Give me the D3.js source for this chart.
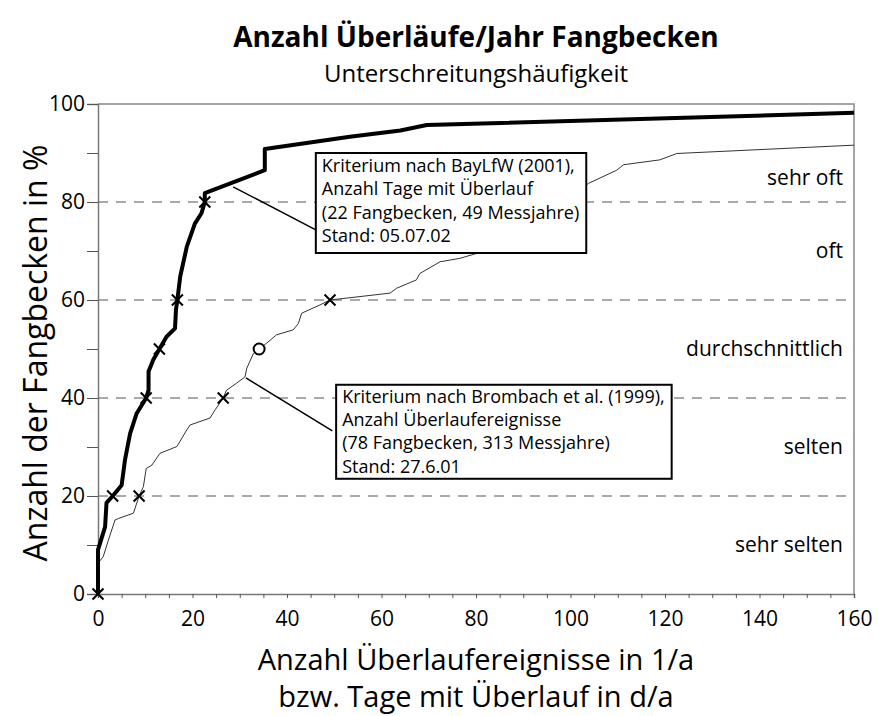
<!DOCTYPE html>
<html lang="de">

<head>
    <meta charset="UTF-8">
    <title>Anzahl Überläufe/Jahr Fangbecken</title>
    <style>
        body {
            margin: 0;
            background: #fff;
        }

        svg text {
            font-family: "Open Sans", sans-serif;
            fill: #000;
        }
    </style>
</head>

<body>
    <div id="wrapper"></div>

    <script src="https://d3js.org/d3.v7.min.js"></script>
    <script>
        // Kriterium BayLfW: Tage mit Überlauf (x) / Anteil Fangbecken in % (y)
        const tageX = [0, 0, 1.5, 1.8, 3.1, 5, 5.7, 6.8, 8.2, 10.2, 10.7, 10.7, 11.7, 13, 14.5, 16.3, 16.5, 16.8,
            17.4, 18.8, 20.5, 21.9, 22.6, 22.6, 35.3, 35.3, 53.3, 64, 69.6, 160];
        const tageY = [0, 9, 13.7, 18.6, 20, 22.2, 27.3, 32.8, 36.9, 40, 41.6, 45.4, 47.8, 50, 52.5, 54.2, 58, 60,
            64.8, 70.9, 75.6, 77.7, 80, 81.8, 86.5, 90.8, 93.3, 94.6, 95.7, 98.2];

        // Kriterium Brombach: Überlaufereignisse (x) / Anteil Fangbecken in % (y)
        const ereignisX = [0, 1.1, 2.2, 3.6, 4.3, 7.5, 8.7, 9.6, 10.2, 11.4, 13.1, 16.7, 18.8, 19.5, 23.7, 24.8,
            26.5, 27.2, 29.3, 31.1, 31.5, 32.9, 34.1, 35.7, 37.8, 41.3, 42.4, 43.1, 47, 49.1, 61.8, 63.2, 67.4,
            68.1, 72.4, 76.6, 80.1, 90, 100, 103.8, 109.8, 111.2, 118.9, 122.5, 160];
        const ereignisY = [6.3, 7.6, 11, 15.1, 15.4, 16.5, 20, 21.9, 25.6, 26.3, 28.7, 30.1, 33.5, 34.5, 35.9, 37.6,
            40, 41.6, 43, 44.3, 46.1, 49.1, 50, 51.2, 52.9, 53.9, 55.2, 57.3, 59, 60, 61.4, 62.4, 64.1,
            65.4, 67.8, 68.5, 69.5, 74, 81, 83.8, 86.5, 87.6, 88.6, 89.9, 91.6];

        // Markierungen (Kreuze) auf den Kurven
        const kreuzX = [0, 3.1, 10.2, 13, 16.8, 22.6, 8.7, 26.5, 49.1];
        const kreuzY = [0, 20, 40, 50, 60, 80, 20, 40, 60];
        const kreisX = [34.1];
        const kreisY = [50];

        // Achsen
        const xTicks = [0, 20, 40, 60, 80, 100, 120, 140, 160];
        const yTicks = [0, 20, 40, 60, 80, 100];
        const gridValues = [20, 40, 60, 80];

        // Häufigkeitsklassen rechts
        const klassenText = ["sehr oft", "oft", "durchschnittlich", "selten", "sehr selten"];
        const klassenY = [85, 70, 50, 30, 10];

        // Beschriftungskästen
        const kasten1Text = ["Kriterium nach BayLfW (2001),", "Anzahl Tage mit Überlauf",
            "(22 Fangbecken, 49 Messjahre)", "Stand: 05.07.02"];
        const kasten2Text = ["Kriterium nach Brombach et al. (1999),", "Anzahl Überlaufereignisse",
            "(78 Fangbecken, 313 Messjahre)", "Stand: 27.6.01"];
        const kastenX = [46.1, 50.4];
        const kastenY = [90, 42.7];
        // Hinweislinien: Start auf der Kurve, Ende am Kasten
        const hinweisX1 = [28.6, 31.3];
        const hinweisY1 = [83.1, 44.1];
        const hinweisX2 = [46.1, 49.6];
        const hinweisY2 = [74.3, 33.3];

        function drawChart() {
            const tage = tageX.map((x, i) => ({ x: x, y: tageY[i] }));
            const ereignisse = ereignisX.map((x, i) => ({ x: x, y: ereignisY[i] }));
            const kreuze = kreuzX.map((x, i) => ({ x: x, y: kreuzY[i] }));
            const kreise = kreisX.map((x, i) => ({ x: x, y: kreisY[i] }));

            let dimensions = {
                width: 879,
                height: 716,
                margin: { top: 104, right: 25, bottom: 122, left: 98 },
            };
            dimensions.boundedWidth = dimensions.width - dimensions.margin.left - dimensions.margin.right;
            dimensions.boundedHeight = dimensions.height - dimensions.margin.top - dimensions.margin.bottom;

            const wrapper = d3.select("#wrapper")
                .append("svg")
                .attr("width", dimensions.width)
                .attr("height", dimensions.height);

            const bounds = wrapper.append("g")
                .attr("transform", `translate(${dimensions.margin.left},${dimensions.margin.top})`);

            const xScale = d3.scaleLinear().domain([0, 160]).range([0, dimensions.boundedWidth]);
            const yScale = d3.scaleLinear().domain([0, 100]).range([dimensions.boundedHeight, 0]);

            // gestrichelte Hilfslinien
            bounds.append("g")
                .selectAll("line")
                .data(gridValues)
                .join("line")
                .attr("x1", 0)
                .attr("x2", dimensions.boundedWidth)
                .attr("y1", d => yScale(d))
                .attr("y2", d => yScale(d))
                .attr("stroke", "#555")
                .attr("stroke-width", 1)
                .attr("stroke-dasharray", "10,8");

            // Rahmen oben und rechts
            bounds.append("path")
                .attr("d", `M0,0H${dimensions.boundedWidth}V${dimensions.boundedHeight}`)
                .attr("fill", "none")
                .attr("stroke", "#888")
                .attr("stroke-width", 1.5);

            // Y-Achse
            const yAxis = bounds.append("g")
                .call(d3.axisLeft(yScale).tickValues(d3.range(0, 101, 10)).tickSize(11).tickFormat(""));
            bounds.append("g")
                .call(d3.axisLeft(yScale).tickValues(yTicks).tickSize(0).tickPadding(13))
                .call(g => g.select(".domain").remove())
                .selectAll("text")
                .style("font-size", "21px");

            // X-Achse
            const xAxis = bounds.append("g")
                .attr("transform", `translate(0,${dimensions.boundedHeight})`)
                .call(d3.axisBottom(xScale).tickValues(d3.range(0, 161, 5)).tickSize(4).tickFormat(""));
            bounds.append("g")
                .attr("transform", `translate(0,${dimensions.boundedHeight})`)
                .call(d3.axisBottom(xScale).tickValues(xTicks).tickSize(0).tickPadding(17))
                .call(g => g.select(".domain").remove())
                .selectAll("text")
                .style("font-size", "21px");

            [yAxis, xAxis].forEach(ax => {
                ax.select(".domain").attr("stroke", "#777").attr("stroke-width", 1.5);
                ax.selectAll(".tick line").attr("stroke", "#555");
            });

            // Kurven
            const lineGenerator = d3.line()
                .x(d => xScale(d.x))
                .y(d => yScale(d.y));

            bounds.append("path")
                .attr("d", lineGenerator(ereignisse))
                .attr("fill", "none")
                .attr("stroke", "#333")
                .attr("stroke-width", 1);

            bounds.append("path")
                .attr("d", lineGenerator(tage))
                .attr("fill", "none")
                .attr("stroke", "#000")
                .attr("stroke-width", 4)
                .attr("stroke-linejoin", "round");

            // Kreuze und Kreis
            bounds.append("g")
                .selectAll("path")
                .data(kreuze)
                .join("path")
                .attr("transform", d => `translate(${xScale(d.x)},${yScale(d.y)})`)
                .attr("d", "M-5.5,-5.5L5.5,5.5M-5.5,5.5L5.5,-5.5")
                .attr("stroke", "#000")
                .attr("stroke-width", 2);

            bounds.append("g")
                .selectAll("circle")
                .data(kreise)
                .join("circle")
                .attr("cx", d => xScale(d.x))
                .attr("cy", d => yScale(d.y))
                .attr("r", 5.5)
                .attr("fill", "#fff")
                .attr("stroke", "#000")
                .attr("stroke-width", 2);

            // Klassen rechts
            bounds.append("g")
                .selectAll("text")
                .data(klassenText)
                .join("text")
                .attr("x", dimensions.boundedWidth - 11)
                .attr("y", (d, i) => yScale(klassenY[i]))
                .attr("dy", "0.35em")
                .attr("text-anchor", "end")
                .style("font-size", "21px")
                .text(d => d);

            // Hinweislinien
            bounds.append("g")
                .selectAll("line")
                .data(hinweisX1)
                .join("line")
                .attr("x1", (d, i) => xScale(d))
                .attr("y1", (d, i) => yScale(hinweisY1[i]))
                .attr("x2", (d, i) => xScale(hinweisX2[i]))
                .attr("y2", (d, i) => yScale(hinweisY2[i]))
                .attr("stroke", "#000")
                .attr("stroke-width", 1.5);

            // Kästen mit Text
            [kasten1Text, kasten2Text].forEach((zeilen, k) => {
                const g = bounds.append("g")
                    .attr("transform", `translate(${xScale(kastenX[k])},${yScale(kastenY[k])})`);
                const rect = g.append("rect")
                    .attr("fill", "#fff")
                    .attr("stroke", "#000")
                    .attr("stroke-width", 2);
                const lineHeight = 23.3;
                const text = g.append("text")
                    .style("font-size", "18px");
                text.selectAll("tspan")
                    .data(zeilen)
                    .join("tspan")
                    .attr("x", 6)
                    .attr("y", (d, i) => (k === 0 ? 19 : 18) + i * lineHeight)
                    .text(d => d);
                const box = text.node().getBBox();
                rect.attr("width", box.width + 13)
                    .attr("height", k === 0 ? 100 : 94);
            });

            // Titel
            wrapper.append("text")
                .attr("x", dimensions.margin.left + dimensions.boundedWidth / 2)
                .attr("y", 47)
                .attr("text-anchor", "middle")
                .style("font-size", "28px")
                .style("font-weight", "bold")
                .text("Anzahl Überläufe/Jahr Fangbecken");

            wrapper.append("text")
                .attr("x", dimensions.margin.left + dimensions.boundedWidth / 2)
                .attr("y", 82)
                .attr("text-anchor", "middle")
                .style("font-size", "24px")
                .text("Unterschreitungshäufigkeit");

            // Achsentitel
            const xTitle = wrapper.append("text")
                .attr("text-anchor", "middle")
                .style("font-size", "29px");
            xTitle.append("tspan")
                .attr("x", dimensions.margin.left + dimensions.boundedWidth / 2)
                .attr("y", 670)
                .text("Anzahl Überlaufereignisse in 1/a");
            xTitle.append("tspan")
                .attr("x", dimensions.margin.left + dimensions.boundedWidth / 2)
                .attr("y", 707)
                .text("bzw. Tage mit Überlauf in d/a");

            wrapper.append("text")
                .attr("transform", `translate(47,353) rotate(-90)`)
                .attr("text-anchor", "middle")
                .style("font-size", "32px")
                .text("Anzahl der Fangbecken in %");
        }
        drawChart()
    </script>
</body>

</html>
